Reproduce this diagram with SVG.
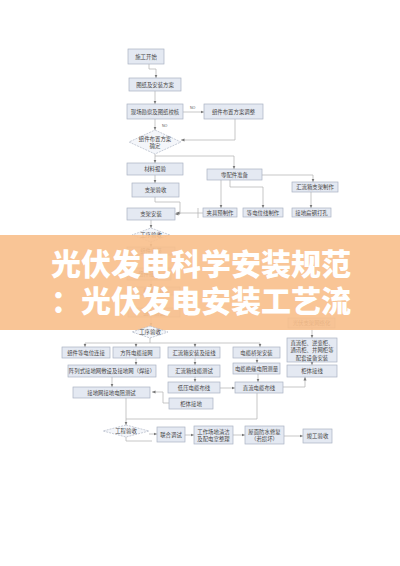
<svg xmlns="http://www.w3.org/2000/svg" width="400" height="566" viewBox="0 0 400 566">
<defs>
<marker id="ah" markerWidth="4" markerHeight="4" refX="3.5" refY="2" orient="auto" markerUnits="userSpaceOnUse"><path d="M0,0.5 L3.5,2 L0,3.5 Z" fill="#777"/></marker>
<style>
.b{fill:#e4e9f2;stroke:#a9b2c2;stroke-width:0.7}
.d{fill:#f4f6fa;stroke:#b0b8c6;stroke-width:0.7;stroke-dasharray:2 1}
.t{font-family:"Noto Sans CJK SC","Noto Sans",sans-serif;font-size:5.4px;fill:#444;text-anchor:middle;dominant-baseline:central}
.s{font-family:"Liberation Sans",sans-serif;font-size:3.6px;fill:#555}
.c path{fill:none;stroke:#b0b0b0;stroke-width:0.7}
.c .a{marker-end:url(#ah)}
.bt{font-family:"Noto Sans CJK SC","Noto Sans",sans-serif;font-size:30px;font-weight:900;fill:#ffffff;text-anchor:middle}
</style>
</defs>
<rect width="400" height="566" fill="#ffffff"/>

<g class="c" id="connectors">
<path class="a" d="M149,64 V69 H156 V78"/>
<path class="a" d="M155,91 V104"/>
<path class="a" d="M183,112 H204"/>
<path class="a" d="M235,119 V140 H181"/>
<path class="a" d="M155,119 V130"/>
<path class="a" d="M155,154 V163"/>
<path class="a" d="M155,156 H234 V169"/>
<path class="a" d="M155,175 V183"/>
<path class="a" d="M155,197 V202 H180 V214 H175"/>
<path class="a" d="M262,175 H313 V182"/>
<path class="a" d="M221,180 V208"/>
<path class="a" d="M230,180 V187 H263 V208"/>
<path class="a" d="M311,192 V208"/>
<path d="M198,208 V218"/>
<path class="a" d="M203,213 H176"/>
<path class="a" d="M151,220 V228"/>
<path class="a" d="M151,242 V247"/>
<path class="a" d="M151,255 V268"/>
<path class="a" d="M151,280 V287"/>
<path class="a" d="M151,295 V308"/>
<path class="a" d="M151,317 V326"/>
<path class="a" d="M312,328 V338"/>
<path d="M150,338 V343"/>
<path d="M85,343 H260"/>
<path class="a" d="M85,343 V347"/>
<path class="a" d="M136,343 V347"/>
<path class="a" d="M195,343 V347"/>
<path class="a" d="M260,343 V347"/>
<path class="a" d="M136,358 V365"/>
<path class="a" d="M195,358 V365"/>
<path class="a" d="M257,358 V363"/>
<path class="a" d="M312,362 V365"/>
<path class="a" d="M112,377 V387"/>
<path class="a" d="M195,377 V382"/>
<path class="a" d="M258,374 V382"/>
<path class="a" d="M220,388 H235"/>
<path class="a" d="M283,387 H305 V377"/>
<path class="a" d="M163,392 H152"/>
<path d="M163,392 V403 H169"/>
<path d="M257,393 V419 H126"/>
<path d="M126,398 V419"/>
<path class="a" d="M126,419 V425"/>
<path d="M126,437 V441 H152"/>
<path class="a" d="M149,434 H157"/>
<path class="a" d="M185,435 H194"/>
<path class="a" d="M233,435 H245"/>
<path class="a" d="M284,436 H303"/>
</g>

<g id="n_start"><rect class="b" x="128" y="49" width="36" height="15"/><text class="t" x="146" y="56.5">施工开始</text></g>
<g id="n_drawing"><rect class="b" x="129" y="78" width="52" height="13"/><text class="t" x="155" y="84.5">图纸及安装方案</text></g>
<g id="n_survey"><rect class="b" x="127" y="104" width="56" height="15"/><text class="t" x="155" y="111.5">现场勘察及图纸校核</text></g>
<text class="s" x="190" y="109">NO</text>
<g id="n_adjust"><rect class="b" x="204" y="104" width="59" height="15"/><text class="t" x="233.5" y="111.5">组件布置方案调整</text></g>
<text class="s" x="162" y="127">NO</text>
<g id="d_confirm"><path class="d" d="M155,130 L181,142 L155,154 L129,142 Z"/><text class="t" x="155" y="139">组件布置方案</text><text class="t" x="155" y="146">确定</text></g>
<g id="n_material"><rect class="b" x="127" y="163" width="56" height="12"/><text class="t" x="155" y="169">材料报验</text></g>
<g id="n_bracket_check"><rect class="b" x="132" y="183" width="47" height="14"/><text class="t" x="155.5" y="190">支架验收</text></g>
<g id="n_bracket_install"><rect class="b" x="127" y="208" width="48" height="12"/><text class="t" x="151" y="214">支架安装</text></g>
<g id="n_parts"><rect class="b" x="207" y="169" width="55" height="11"/><text class="t" x="234.5" y="174.5">零配件准备</text></g>
<g id="n_combiner_frame"><rect class="b" x="292" y="182" width="46" height="10"/><text class="t" x="315" y="187">汇流箱支架制作</text></g>
<g id="n_clamp"><rect class="b" x="203" y="208" width="34" height="9"/><text class="t" x="220" y="212.5">夹具预制作</text></g>
<g id="n_equip"><rect class="b" x="243" y="208" width="40" height="9"/><text class="t" x="263" y="212.5">等电位线制作</text></g>
<g id="n_ground_drill"><rect class="b" x="292" y="208" width="39" height="9"/><text class="t" x="311.5" y="212.5">接地扁钢打孔</text></g>
<g id="d_inspect1"><path class="d" d="M151,228 L170,235 L151,242 L132,235 Z"/><text class="t" x="151" y="235">工序验收</text></g>
<g id="n_module"><rect class="b" x="127" y="247" width="48" height="8"/><text class="t" x="151" y="251">组件安装</text></g>
<g id="n_wiring"><rect class="b" x="127" y="268" width="44" height="12"/><text class="t" x="149" y="274">组件接线</text></g>
<g id="n_string"><rect class="b" x="128" y="287" width="52" height="8"/><text class="t" x="154" y="291">组串连接</text></g>
<g id="n_test"><rect class="b" x="128" y="308" width="52" height="9"/><text class="t" x="154" y="312.5">组串测试</text></g>
<g id="n_net"><rect class="b" x="288" y="318" width="47" height="10"/><text class="t" x="311.5" y="323">光伏支架网络化</text></g>

<g id="banner">
<rect x="0" y="235" width="400" height="95" fill="#f8bf8b" opacity="0.9"/>
<text class="bt" x="201" y="275">光伏发电科学安装规范</text>
<text class="bt" x="201" y="312">：光伏发电安装工艺流</text>
</g>

<g id="d_inspect2"><path class="d" d="M150,326 L168,332 L150,338 L132,332 Z"/><text class="t" x="150" y="332">工序验收</text></g>
<g id="r1a"><rect class="b" x="62" y="347" width="48" height="11"/><text class="t" x="86" y="352.5">组件等电位连接</text></g>
<g id="r1b"><rect class="b" x="113" y="347" width="47" height="11"/><text class="t" x="136.5" y="352.5">方阵电缆接网</text></g>
<g id="r1c"><rect class="b" x="168" y="347" width="52" height="11"/><text class="t" x="194" y="352.5">汇流箱安装及接线</text></g>
<g id="r1d"><rect class="b" x="233" y="347" width="47" height="11"/><text class="t" x="256.5" y="352.5">电缆桥架安装</text></g>
<g id="r1e"><rect class="b" x="287" y="338" width="50" height="24"/><text class="t" x="312" y="342.5">直流柜、逆变柜、</text><text class="t" x="312" y="350">通讯柜、并网柜等</text><text class="t" x="312" y="357.5">配套设备安装</text></g>
<g id="r2a"><rect class="b" x="68" y="365" width="88" height="12"/><text class="t" x="112" y="371">阵列式接地网敷设及接地网（焊接）</text></g>
<g id="r2c"><rect class="b" x="168" y="365" width="52" height="12"/><text class="t" x="194" y="371">汇流箱线缆测试</text></g>
<g id="r2d"><rect class="b" x="233" y="363" width="47" height="11"/><text class="t" x="256.5" y="368.5">电缆绝缘电阻测量</text></g>
<g id="r2e"><rect class="b" x="287" y="365" width="50" height="12"/><text class="t" x="312" y="371">柜体接线</text></g>
<g id="r3a"><rect class="b" x="73" y="387" width="77" height="11"/><text class="t" x="111.5" y="392.5">接地网接地电阻测试</text></g>
<g id="r3c"><rect class="b" x="168" y="382" width="52" height="11"/><text class="t" x="194" y="387.5">低压电缆布线</text></g>
<g id="r3d"><rect class="b" x="235" y="382" width="48" height="11"/><text class="t" x="259" y="387.5">直流电缆布线</text></g>
<g id="r4c"><rect class="b" x="169" y="398" width="44" height="11"/><text class="t" x="191" y="403.5">柜体接地</text></g>
<g id="d_final"><path class="d" d="M126,425 L149,431 L126,437 L103,431 Z"/><text class="t" x="126" y="431">工程验收</text></g>
<g id="f1"><rect class="b" x="157" y="427" width="28" height="15"/><text class="t" x="171" y="434.5">联合调试</text></g>
<g id="f2"><rect class="b" x="194" y="426" width="39" height="18"/><text class="t" x="213.5" y="431.5">工作场地清洁</text><text class="t" x="213.5" y="438.5">及配电室整理</text></g>
<g id="f3"><rect class="b" x="245" y="426" width="39" height="18"/><text class="t" x="264.5" y="431.5">屋面防水修复</text><text class="t" x="264.5" y="438.5">（若损坏）</text></g>
<g id="f4"><rect class="b" x="303" y="429" width="29" height="14"/><text class="t" x="317.5" y="436">竣工验收</text></g>
</svg>
